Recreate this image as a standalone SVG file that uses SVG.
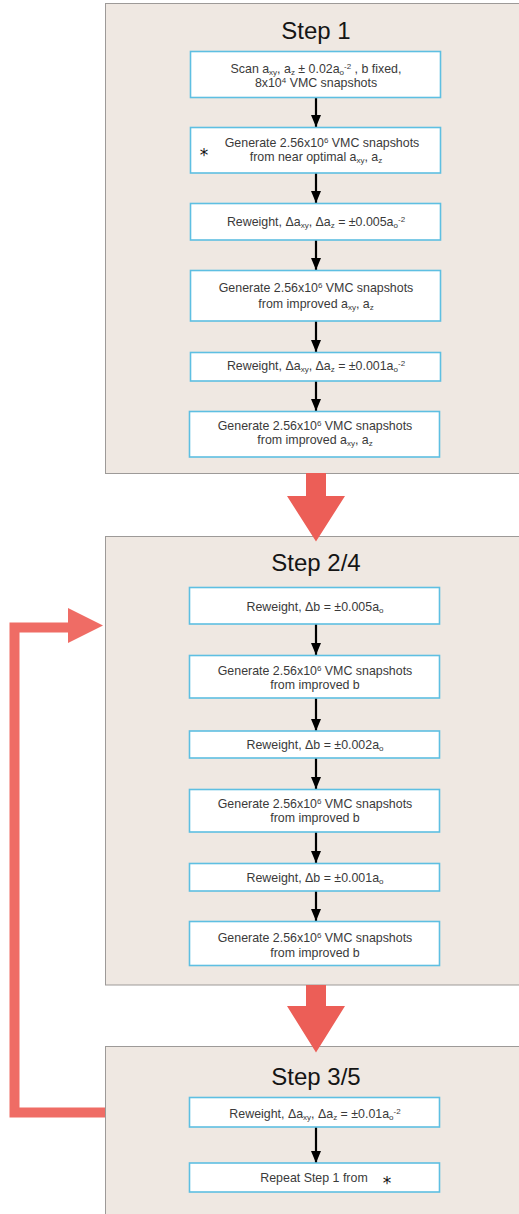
<svg xmlns="http://www.w3.org/2000/svg" width="519" height="1214" viewBox="0 0 519 1214">
<defs>
<style>
.panel{fill:#efe8e2;stroke:#9d9a98;stroke-width:1}
.box{fill:#ffffff;stroke:#5ebfe2;stroke-width:1.6}
.title{font-family:"Liberation Sans",Arial,sans-serif;font-size:24px;fill:#151515;text-anchor:middle}
.t{font-family:"Liberation Sans",Arial,sans-serif;font-size:12.4px;fill:#3a3a3a;text-anchor:middle}
.sub{font-size:8px;baseline-shift:-2px}
.sup{font-size:8px;baseline-shift:4px}
.star{font-family:"DejaVu Sans",sans-serif;font-size:17px;fill:#111;text-anchor:middle}
.conn{stroke:#000;stroke-width:2.2;fill:none;marker-end:url(#ah)}
.big{fill:#ec5e57}
.loop{fill:none;stroke:#ef6c65;stroke-width:10;stroke-linejoin:miter}
</style>
<marker id="ah" viewBox="0 0 12 10" refX="12" refY="5" markerWidth="12" markerHeight="10" markerUnits="userSpaceOnUse" orient="auto">
<path d="M0,0 L12,5 L0,10 z" fill="#000"/>
</marker>
</defs>
<rect width="519" height="1214" fill="#ffffff"/>

<g id="panel1">
<rect class="panel" x="105.5" y="3.5" width="430" height="470"/>
<text class="title" x="316" y="39">Step 1</text>
</g>
<g id="panel2">
<rect class="panel" x="105.5" y="536.5" width="430" height="448.5"/>
<text class="title" x="316" y="571">Step 2/4</text>
</g>
<g id="panel3">
<rect class="panel" x="105.5" y="1046.5" width="430" height="180"/>
<text class="title" x="316" y="1085">Step 3/5</text>
</g>

<g id="bigArrows">
<path class="big" d="M306,473 H326 V496 H345 L316,541.5 L287,496 H306 Z"/>
<path class="big" d="M306,985 H326 V1006 H345 L316,1052.5 L287,1006 H306 Z"/>
<path class="loop" d="M105,1112.5 H14.5 V627.5 H69"/>
<path fill="#ef6c65" d="M68,608 L103,625.5 L68,643 Z"/>
</g>

<g id="connectors">
<line class="conn" x1="316" y1="98" x2="316" y2="127"/>
<line class="conn" x1="316" y1="173" x2="316" y2="203"/>
<line class="conn" x1="316" y1="240" x2="316" y2="270"/>
<line class="conn" x1="316" y1="321" x2="316" y2="352"/>
<line class="conn" x1="316" y1="381" x2="316" y2="411"/>
<line class="conn" x1="316" y1="624" x2="316" y2="655"/>
<line class="conn" x1="316" y1="698" x2="316" y2="731"/>
<line class="conn" x1="316" y1="758" x2="316" y2="789"/>
<line class="conn" x1="316" y1="832" x2="316" y2="863"/>
<line class="conn" x1="316" y1="891" x2="316" y2="921"/>
<line class="conn" x1="316" y1="1127" x2="316" y2="1163"/>
</g>

<g id="n1">
<rect class="box" x="190.5" y="51.5" width="250" height="46"/>
<text class="t" x="316" y="73">Scan a<tspan class="sub">xy</tspan>, a<tspan class="sub">z</tspan> ± 0.02a<tspan class="sub">o</tspan><tspan class="sup">-2</tspan> , b fixed,</text>
<text class="t" x="316" y="87">8x10<tspan class="sup">4</tspan> VMC snapshots</text>
</g>
<g id="n2">
<rect class="box" x="190.5" y="127.5" width="250" height="45.5"/>
<text class="star" x="204" y="161">*</text>
<text class="t" x="322" y="147">Generate 2.56x10<tspan class="sup">6</tspan> VMC snapshots</text>
<text class="t" x="316" y="161">from near optimal a<tspan class="sub">xy</tspan>, a<tspan class="sub">z</tspan></text>
</g>
<g id="n3">
<rect class="box" x="190.5" y="203.5" width="250" height="36.5"/>
<text class="t" x="316" y="226">Reweight, Δa<tspan class="sub">xy</tspan>, Δa<tspan class="sub">z</tspan> = ±0.005a<tspan class="sub">o</tspan><tspan class="sup">-2</tspan></text>
</g>
<g id="n4">
<rect class="box" x="190.5" y="270.5" width="250" height="50.5"/>
<text class="t" x="316" y="292">Generate 2.56x10<tspan class="sup">6</tspan> VMC snapshots</text>
<text class="t" x="316" y="307.5">from improved a<tspan class="sub">xy</tspan>, a<tspan class="sub">z</tspan></text>
</g>
<g id="n5">
<rect class="box" x="190.5" y="352.5" width="250" height="28.5"/>
<text class="t" x="316" y="369.5">Reweight, Δa<tspan class="sub">xy</tspan>, Δa<tspan class="sub">z</tspan> = ±0.001a<tspan class="sub">o</tspan><tspan class="sup">-2</tspan></text>
</g>
<g id="n6">
<rect class="box" x="189.5" y="411.5" width="250" height="45.5"/>
<text class="t" x="315" y="429.5">Generate 2.56x10<tspan class="sup">6</tspan> VMC snapshots</text>
<text class="t" x="315" y="444">from improved a<tspan class="sub">xy</tspan>, a<tspan class="sub">z</tspan></text>
</g>

<g id="n7">
<rect class="box" x="189.5" y="587.5" width="250" height="36.5"/>
<text class="t" x="315" y="611">Reweight, Δb = ±0.005a<tspan class="sub">o</tspan></text>
</g>
<g id="n8">
<rect class="box" x="189.5" y="655.5" width="250" height="42.5"/>
<text class="t" x="315" y="675">Generate 2.56x10<tspan class="sup">6</tspan> VMC snapshots</text>
<text class="t" x="315" y="689">from improved b</text>
</g>
<g id="n9">
<rect class="box" x="189.5" y="731" width="250" height="27"/>
<text class="t" x="315" y="748.5">Reweight, Δb = ±0.002a<tspan class="sub">o</tspan></text>
</g>
<g id="n10">
<rect class="box" x="189.5" y="789.5" width="250" height="42.5"/>
<text class="t" x="315" y="807.5">Generate 2.56x10<tspan class="sup">6</tspan> VMC snapshots</text>
<text class="t" x="315" y="822">from improved b</text>
</g>
<g id="n11">
<rect class="box" x="189.5" y="863.5" width="250" height="27.5"/>
<text class="t" x="315" y="881.5">Reweight, Δb = ±0.001a<tspan class="sub">o</tspan></text>
</g>
<g id="n12">
<rect class="box" x="189.5" y="921.5" width="250" height="44"/>
<text class="t" x="315" y="942">Generate 2.56x10<tspan class="sup">6</tspan> VMC snapshots</text>
<text class="t" x="315" y="956.5">from improved b</text>
</g>

<g id="n13">
<rect class="box" x="189.5" y="1097.5" width="250" height="29.5"/>
<text class="t" x="315" y="1117.5">Reweight, Δa<tspan class="sub">xy</tspan>, Δa<tspan class="sub">z</tspan> = ±0.01a<tspan class="sub">o</tspan><tspan class="sup">-2</tspan></text>
</g>
<g id="n14">
<rect class="box" x="189.5" y="1163" width="250" height="29"/>
<text class="t" x="314" y="1181.5">Repeat Step 1 from</text>
<text class="star" x="387" y="1189">*</text>
</g>
</svg>
